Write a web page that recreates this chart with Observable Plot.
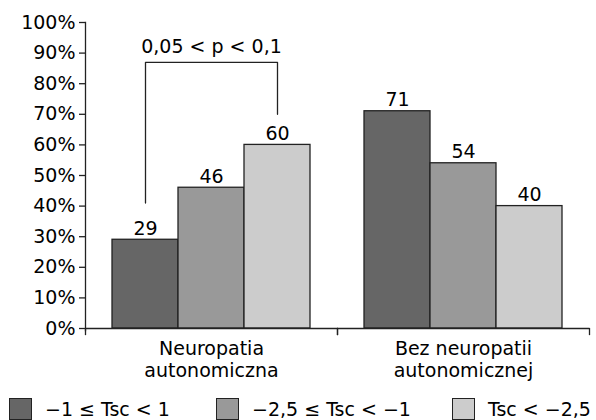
<!DOCTYPE html>
<html>
<head>
<meta charset="utf-8">
<script src="https://cdn.jsdelivr.net/npm/d3@7"></script>
<script src="https://cdn.jsdelivr.net/npm/@observablehq/plot@0.6"></script>
<style>
  html, body { margin: 0; padding: 0; background: #fff; overflow: hidden; }
  #chart { width: 596px; }
  #legend { position: relative; width: 596px; height: 30px; font-family: "DejaVu Sans", sans-serif; font-size: 19px; color: #000; }
  .item { position: absolute; top: 8px; display: flex; align-items: center; white-space: nowrap; }
  .sw { width: 23px; height: 22px; box-sizing: border-box; border: 1.3px solid #222; margin-right: 13px; }
</style>
</head>
<body>
<div id="chart"></div>
<div id="legend"></div>
<script>
const categories = ["Neuropatia autonomiczna", "Bez neuropatii autonomicznej"];
const categoryLabels = ["Neuropatia\nautonomiczna", "Bez neuropatii\nautonomicznej"];
const series = ["−1 ≤ Tsc < 1", "−2,5 ≤ Tsc < −1", "Tsc < −2,5"];
const valuesNeuropatia = [29, 46, 60];
const valuesBez = [71, 54, 40];
const colors = ["#666666", "#999999", "#cccccc"];
const yTicks = [0, 10, 20, 30, 40, 50, 60, 70, 80, 90, 100];
const bracketLabel = "0,05 < p < 0,1";
const bracketSeries = [series[0], series[0], series[2], series[2]];
const bracketY = [41, 87, 87, 70];
const bracketLabelY = 92;
const legendLeft = [9, 216, 452];

const data = [];
categories.forEach((c, ci) => {
  const vals = ci === 0 ? valuesNeuropatia : valuesBez;
  series.forEach((s, si) => data.push({category: c, series: s, value: vals[si]}));
});
const bracket = bracketSeries.map((s, i) => ({category: categories[0], series: s, y: bracketY[i]}));

const FONT = "DejaVu Sans, sans-serif";
const plot = Plot.plot({
  width: 596,
  height: 390,
  marginLeft: 84,
  marginRight: 7,
  marginTop: 22,
  marginBottom: 62,
  style: {fontFamily: FONT, fontSize: "19px", color: "#000", background: "#fff"},
  fx: {domain: categories, padding: 0, label: null, axis: null},
  x: {domain: series, paddingInner: 0, paddingOuter: 0.386, axis: null},
  y: {domain: [0, 100], axis: null},
  color: {domain: series, range: colors},
  marks: [
    Plot.barY(data, {fx: "category", x: "series", y: "value", fill: "series", stroke: "#222", strokeWidth: 1.3}),
    Plot.text(data, {fx: "category", x: "series", y: "value", text: d => String(d.value), lineAnchor: "bottom", dy: -5, fontSize: 19}),
    Plot.line(bracket, {fx: "category", x: "series", y: "y", stroke: "#222", strokeWidth: 1.3}),
    Plot.text([bracketLabel], {fx: [categories[0]], x: [series[1]], y: [bracketLabelY], text: d => d, fontSize: 19}),
    Plot.ruleY([0], {stroke: "#222", strokeWidth: 1.3}),
    Plot.frame({anchor: "left", facetAnchor: "left", insetBottom: -2, stroke: "#222", strokeWidth: 1.3}),
    Plot.frame({anchor: "left", insetTop: 306, insetBottom: -6, stroke: "#222", strokeWidth: 1.3}),
    Plot.frame({anchor: "right", insetTop: 306, insetBottom: -6, stroke: "#222", strokeWidth: 1.3}),
    Plot.axisY({ticks: yTicks, tickFormat: d => d + "%", tickSize: 6, tickPadding: 4, label: null, fontSize: 19, stroke: "#222", strokeWidth: 1.3}),
    Plot.axisFx({anchor: "bottom", tickSize: 0, tickPadding: 11, label: null, lineHeight: 1.15, fontSize: 19, tickFormat: d => categoryLabels[categories.indexOf(d)]})
  ]
});
document.getElementById("chart").appendChild(plot);

const legend = document.getElementById("legend");
series.forEach((s, i) => {
  const item = document.createElement("div");
  item.className = "item";
  item.style.left = legendLeft[i] + "px";
  const sw = document.createElement("div");
  sw.className = "sw";
  sw.style.background = colors[i];
  const t = document.createElement("span");
  t.textContent = s;
  item.appendChild(sw);
  item.appendChild(t);
  legend.appendChild(item);
});
</script>
</body>
</html>
